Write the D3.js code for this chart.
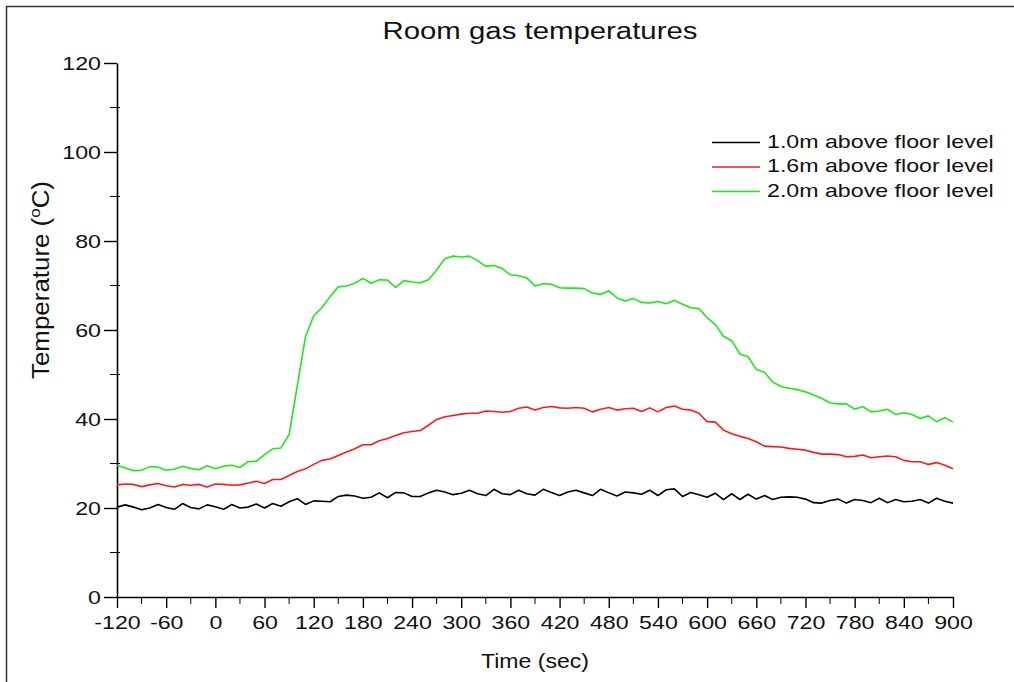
<!DOCTYPE html>
<html>
<head>
<meta charset="utf-8">
<script src="https://cdn.jsdelivr.net/npm/d3@7"></script>
<style>
  body { margin: 0; background: #fff; }
  svg { display: block; }
  text { font-family: "Liberation Sans", Arial, sans-serif; fill: #111; }
</style>
</head>
<body>
<div id="chart"></div>
<script>
"use strict";

// time (sec), sampled every 10 s
var times = [-120,-110,-100,-90,-80,-70,-60,-50,-40,-30,-20,-10,0,10,20,30,40,50,60,70,80,90,
  100,110,120,130,140,150,160,170,180,190,200,210,220,230,240,250,260,270,280,290,
  300,310,320,330,340,350,360,370,380,390,400,410,420,430,440,450,460,470,480,490,
  500,510,520,530,540,550,560,570,580,590,600,610,620,630,640,650,660,670,680,690,
  700,710,720,730,740,750,760,770,780,790,800,810,820,830,840,850,860,870,880,890,900];

// 1.0m above floor level
var temp10 = [20.2,20.7,20.2,19.6,20.0,20.8,20.1,19.7,21.0,20.1,19.8,20.7,20.3,19.7,20.8,20.0,20.2,20.9,20.0,21.0,20.4,21.4,
  22.1,20.8,21.6,21.5,21.4,22.6,22.9,22.7,22.2,22.4,23.4,22.3,23.5,23.4,22.6,22.6,23.4,24.0,23.6,23.0,
  23.3,24.0,23.2,22.8,24.2,23.2,23.0,24.0,23.2,22.9,24.2,23.5,22.8,23.6,24.0,23.4,22.8,24.2,23.4,22.7,
  23.6,23.4,23.1,24.0,22.8,24.1,24.3,22.6,23.5,23.0,22.4,23.3,21.9,23.2,21.9,23.1,22.0,22.8,21.9,22.4,
  22.5,22.4,22.0,21.2,21.1,21.7,22.0,21.1,21.9,21.7,21.2,22.2,21.2,21.9,21.4,21.5,21.9,21.1,22.2,21.5,21.1];

// 1.6m above floor level
var temp16 = [25.2,25.4,25.3,24.8,25.2,25.5,25.0,24.7,25.3,25.1,25.3,24.7,25.4,25.3,25.1,25.2,25.6,26.0,25.5,26.4,26.4,27.3,
  28.2,28.8,29.8,30.7,31.0,31.8,32.6,33.3,34.2,34.2,35.1,35.6,36.3,36.9,37.2,37.4,38.6,39.9,40.5,40.8,
  41.1,41.3,41.3,41.8,41.7,41.5,41.7,42.4,42.7,42.0,42.6,42.8,42.5,42.4,42.6,42.4,41.6,42.2,42.6,42.0,
  42.3,42.4,41.7,42.5,41.6,42.6,42.9,42.2,42.0,41.3,39.4,39.3,37.5,36.7,36.1,35.6,34.9,33.9,33.8,33.7,
  33.4,33.2,33.0,32.5,32.1,32.1,32.0,31.5,31.6,31.9,31.3,31.5,31.7,31.5,30.7,30.4,30.4,29.8,30.2,29.6,28.8];

// 2.0m above floor level
var temp20 = [29.6,29.0,28.4,28.5,29.3,29.2,28.5,28.7,29.4,28.9,28.6,29.5,28.8,29.4,29.6,29.1,30.4,30.5,32.0,33.3,33.5,36.5,
  47.5,58.5,63.2,65.0,67.5,69.7,69.9,70.5,71.6,70.5,71.3,71.2,69.6,71.1,70.8,70.6,71.3,73.5,76.0,76.6,
  76.4,76.6,75.6,74.3,74.5,73.8,72.4,72.2,71.7,69.9,70.4,70.3,69.5,69.4,69.4,69.3,68.3,68.0,68.8,67.2,
  66.5,67.1,66.2,66.1,66.4,65.9,66.7,65.8,65.0,64.8,62.8,61.2,58.6,57.6,54.6,54.0,51.1,50.5,48.3,47.3,
  46.9,46.6,46.1,45.4,44.6,43.6,43.4,43.4,42.2,42.8,41.6,41.8,42.2,41.0,41.4,41.0,40.1,40.7,39.4,40.3,39.3];

var seriesNames = ["1.0m above floor level", "1.6m above floor level", "2.0m above floor level"];
var seriesColors = ["#000000", "#ff1a1a", "#1aea1a"];
var seriesValues = [temp10, temp16, temp20];

var xTicks = [-120,-60,0,60,120,180,240,300,360,420,480,540,600,660,720,780,840,900];
var yTicks = [0,20,40,60,80,100,120];

var width = 1014, height = 682;
var stretch = 1.22; // the original text is drawn wider than normal

var svg = d3.select("#chart").append("svg")
    .attr("width", width)
    .attr("height", height);

// frame (top + left only, the rest is cut off)
svg.append("path")
    .attr("d", "M6.5,682V6.5H1014")
    .attr("fill", "none")
    .attr("stroke", "#333")
    .attr("stroke-width", 1.5);

var x = d3.scaleLinear().domain([-120, 900]).range([117, 953]);
var y = d3.scaleLinear().domain([0, 120]).range([597, 63]);

var plain = function(d) { return String(d); }; // hyphen minus, like the original

// x axis
var xAxis = svg.append("g")
    .attr("transform", "translate(0,597)")
    .call(d3.axisBottom(x).tickValues(xTicks).tickFormat(plain)
      .tickSize(11).tickPadding(8).tickSizeOuter(0));
xAxis.append("g").selectAll("line")
    .data(d3.range(-90, 900, 60))
    .enter().append("line")
    .attr("x1", function(d) { return x(d); })
    .attr("x2", function(d) { return x(d); })
    .attr("y1", 0).attr("y2", 7)
    .attr("stroke", "#000");

// y axis
var yAxis = svg.append("g")
    .attr("transform", "translate(117,0)")
    .call(d3.axisLeft(y).tickValues(yTicks).tickFormat(plain)
      .tickSize(13).tickPadding(3).tickSizeOuter(0));
yAxis.append("g").selectAll("line")
    .data([10,30,50,70,90,110])
    .enter().append("line")
    .attr("x1", -7).attr("x2", 3)
    .attr("y1", function(d) { return y(d); })
    .attr("y2", function(d) { return y(d); })
    .attr("stroke", "#000");

svg.selectAll(".domain").attr("stroke", "#000").attr("stroke-width", 1.6);
svg.selectAll(".tick line").attr("stroke", "#000").attr("stroke-width", 1.4);
svg.selectAll(".tick text")
    .attr("font-family", "Liberation Sans, Arial, sans-serif")
    .attr("font-size", 19)
    .attr("fill", "#111");
yAxis.selectAll(".tick text").attr("dy", "0.36em");

// lines
var line = d3.line()
    .x(function(d) { return x(d[0]); })
    .y(function(d) { return y(d[1]); });

seriesValues.forEach(function(vals, i) {
  svg.append("path")
      .datum(times.map(function(t, j) { return [t, vals[j]]; }))
      .attr("fill", "none")
      .attr("stroke", seriesColors[i])
      .attr("stroke-width", 1.6)
      .attr("stroke-linejoin", "round")
      .attr("d", line);
});

// title and axis labels
svg.append("text")
    .attr("x", 540).attr("y", 39)
    .attr("text-anchor", "middle")
    .attr("font-size", 23)
    .attr("textLength", 315)
    .attr("lengthAdjust", "spacingAndGlyphs")
    .text("Room gas temperatures");

svg.append("text")
    .attr("x", 535).attr("y", 668)
    .attr("text-anchor", "middle")
    .attr("font-size", 20)
    .attr("textLength", 108)
    .attr("lengthAdjust", "spacingAndGlyphs")
    .text("Time (sec)");

var ylab = svg.append("text")
    .attr("transform", "translate(49,280) rotate(-90)")
    .attr("text-anchor", "middle")
    .attr("font-size", 23)
    .attr("textLength", 198)
    .attr("lengthAdjust", "spacingAndGlyphs");
ylab.append("tspan").text("Temperature (");
ylab.append("tspan").attr("font-size", 15).attr("dy", -9).text("o");
ylab.append("tspan").attr("dy", 9).text("C)");

// legend
var legend = svg.append("g")
    .selectAll("g")
    .data(seriesNames)
    .enter().append("g")
    .attr("transform", function(d, i) { return "translate(712," + (142.5 + i * 24.5) + ")"; });
legend.append("line")
    .attr("x1", 0).attr("x2", 48)
    .attr("stroke", function(d, i) { return seriesColors[i]; })
    .attr("stroke-width", 1.6);
legend.append("text")
    .attr("class", "wide")
    .attr("x", 55).attr("y", 5)
    .attr("font-size", 19)
    .text(function(d) { return d; });

// widen the texts like in the original
svg.selectAll(".tick text, text.wide").each(function() {
  var w = this.getComputedTextLength();
  d3.select(this)
    .attr("textLength", w * stretch)
    .attr("lengthAdjust", "spacingAndGlyphs");
});
</script>
</body>
</html>
